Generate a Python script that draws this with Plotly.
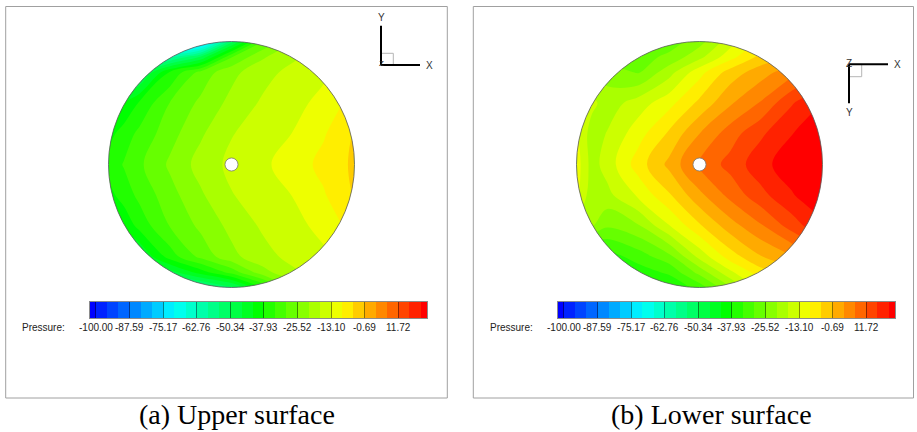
import numpy as np
import plotly.graph_objects as go

# ---------------- data ----------------
# grid nodes (normalised disk coordinates, disk radius = 1)
U_NODES = [-1, -0.875, -0.75, -0.5, -0.25, 0, 0.25, 0.5, 0.75, 0.875, 1]
V_NODES = [-1, -0.875, -0.75, -0.5, -0.25, 0, 0.25, 0.5, 0.75, 0.875, 1]

# pressure on the upper surface, rows from v=-1 (bottom) to v=+1 (top)
P_UPPER = [
    [-72, -70, -66, -62, -58, -52, -38, -25, -18, -15, -13],
    [-64, -60, -55, -48, -40, -32, -23, -18, -15, -13, -12],
    [-58, -53, -47, -36, -28.5, -22.6, -18.8, -16.0, -14, -12, -10],
    [-46, -41.5, -36.5, -29.5, -24.6, -20.2, -16.7, -14.6, -11.7, -9.5, -7],
    [-39.5, -36, -32.8, -27.1, -22.0, -17.5, -15.3, -13.0, -9.4, -7.0, -4.5],
    [-36.5, -33.5, -30.5, -24.8, -19.8, -16.2, -14.0, -11.1, -7.8, -6.0, -4.0],
    [-39.5, -36, -32.8, -27.1, -22.0, -17.5, -15.3, -13.0, -9.4, -7.0, -4.5],
    [-46, -42, -37.5, -29.5, -24.6, -20.2, -16.7, -14.6, -11.7, -9.5, -7],
    [-66, -60, -53, -37.5, -28.2, -22.6, -18.8, -16.0, -14, -12, -10],
    [-76, -70, -66, -60, -50, -30, -22, -18, -15, -13, -12],
    [-86, -84, -84, -86, -80, -52, -30, -22, -18, -15, -13],
]

# pressure on the lower surface, rows from v=-1 (bottom) to v=+1 (top)
P_LOWER = [
    [-45, -44, -43, -41, -38, -32, -22, -12, -7, -4, -1],
    [-42, -40, -38, -36, -33, -24, -14, -6.5, -3, 0, 3],
    [-40, -38, -36, -32, -27, -16, -7, -1, 3, 6, 9],
    [-18, -21, -25, -22, -13.5, -5.5, 1.5, 7.0, 13.5, 16.5, 19],
    [-12, -20, -18.5, -12.5, -5.5, 2.3, 8.8, 14.5, 19.5, 21.8, 23],
    [-11, -19, -15.5, -7.0, 0.3, 8.5, 13.1, 18.5, 22.5, 23.3, 23.8],
    [-12, -19.5, -17, -10.8, -4.2, 3.4, 9.8, 15.1, 19.8, 22, 23],
    [-12, -16, -19.5, -15.3, -10.5, -3.8, 2.8, 8.0, 15.4, 18, 20],
    [-20, -22, -23, -26, -19, -10.5, -3.0, 1.5, 6, 9, 12],
    [-25, -26, -27, -27.5, -24.5, -18.5, -10.5, -3.5, 0, 3, 6],
    [-28, -28, -29, -30, -28, -23, -15, -8, -4, -1, 2],
]

LEGEND_LABELS = ["-100.00", "-87.59", "-75.17", "-62.76", "-50.34",
                 "-37.93", "-25.52", "-13.10", "-0.69", "11.72"]
LEVELS_PER_LABEL = 3
N_LEVELS = 30
LEGEND_LIMITS = [-102.2, 22.3]
CAPTIONS = ["(a) Upper surface", "(b) Lower surface"]
DISK_RADIUS = 1.0
HOLE_RADIUS = 0.053

# ---------------- derived contour levels ----------------
label_vals = [float(t) for t in LEGEND_LABELS]
step = (label_vals[1] - label_vals[0]) / LEVELS_PER_LABEL
start = label_vals[0]
end = start + (N_LEVELS - 1) * step

RAINBOW = [[0.0, "rgb(0,0,255)"], [0.25, "rgb(0,255,255)"],
           [0.5, "rgb(0,255,0)"], [0.75, "rgb(255,255,0)"], [1.0, "rgb(255,0,0)"]]

W, H = 917, 432
SANS = "Liberation Sans, Arial, sans-serif"


def px(x):
    return x / W


def py(y):
    return 1 - y / H


fig = go.Figure()

# ---------------- panels ----------------
R_PX = 123.0
LIM = 1.02
panel_centers = [(231.5, 164.5), (699.5, 164.5)]
fields = [P_UPPER, P_LOWER]

for k, (field, (cx, cy)) in enumerate(zip(fields, panel_centers)):
    ax = "" if k == 0 else "2"
    fig.add_trace(go.Contour(
        x=U_NODES, y=V_NODES, z=field,
        autocontour=False,
        contours=dict(start=start, end=end, size=step, coloring="fill"),
        colorscale=RAINBOW, showscale=False,
        line=dict(width=0, smoothing=1.0),
        hoverinfo="skip",
        xaxis="x" + ax, yaxis="y" + ax,
    ))
    half = R_PX * LIM
    fig.layout["xaxis" + ax] = dict(domain=[px(cx - half), px(cx + half)],
                                    range=[-LIM, LIM], visible=False, fixedrange=True)
    yc = H - cy
    fig.layout["yaxis" + ax] = dict(domain=[(yc - half) / H, (yc + half) / H],
                                    range=[-LIM, LIM], visible=False, fixedrange=True)

    # white mask outside the disk
    t = np.linspace(0, 2 * np.pi, 721)
    circ = " ".join(f"L{DISK_RADIUS*np.cos(a):.5f},{DISK_RADIUS*np.sin(a):.5f}" for a in t[1:])
    L2 = LIM
    path = (f"M{-L2},{-L2} L{L2},{-L2} L{L2},{L2} L{-L2},{L2} Z "
            f"M{DISK_RADIUS},0 {circ} Z")
    fig.add_shape(type="path", path=path, xref="x" + ax, yref="y" + ax,
                  fillcolor="white", fillrule="evenodd", line=dict(width=0))
    fig.add_shape(type="circle", xref="x" + ax, yref="y" + ax,
                  x0=-DISK_RADIUS, x1=DISK_RADIUS, y0=-DISK_RADIUS, y1=DISK_RADIUS,
                  line=dict(color="#5a5a5a", width=0.8))
    fig.add_shape(type="circle", xref="x" + ax, yref="y" + ax,
                  x0=-HOLE_RADIUS, x1=HOLE_RADIUS, y0=-HOLE_RADIUS, y1=HOLE_RADIUS,
                  fillcolor="white", line=dict(color="#777777", width=0.8))

# ---------------- legends (colour bars) ----------------
edges = [LEGEND_LIMITS[0]] + [start + i * step for i in range(N_LEVELS)] + [LEGEND_LIMITS[1]]
zvals = [start + (i - 0.5) * step for i in range(N_LEVELS + 1)]
bar_x = [(90, 427), (558, 895)]
for k, (x0, x1) in enumerate(bar_x):
    ax = str(3 + k)
    fig.add_trace(go.Heatmap(
        x=edges, y=[0, 1], z=[zvals], colorscale=RAINBOW,
        zmin=start - 0.5 * step, zmax=start + (N_LEVELS - 0.5) * step,
        showscale=False, hoverinfo="skip", xaxis="x" + ax, yaxis="y" + ax,
    ))
    fig.layout["xaxis" + ax] = dict(
        domain=[px(x0), px(x1)], range=LEGEND_LIMITS, fixedrange=True,
        tickvals=label_vals, showticklabels=False, ticks="inside", ticklen=16,
        tickwidth=1, tickcolor="rgba(0,0,0,0.45)", showline=True, mirror=True,
        linecolor="#8c8c8c", linewidth=1, showgrid=False, zeroline=False,
        layer="above traces", anchor="y" + ax,
    )
    fig.layout["yaxis" + ax] = dict(
        domain=[(H - 318) / H, (H - 302) / H], range=[0, 1], fixedrange=True,
        showticklabels=False, ticks="", showgrid=False, zeroline=False,
        showline=True, mirror=True, linecolor="#8c8c8c", linewidth=1, anchor="x" + ax,
    )
    # level labels placed through the legend axis scale
    for val, txt in zip(label_vals, LEGEND_LABELS):
        fig.add_annotation(x=val, y=py(327), xref="x" + ax, yref="paper", text=txt,
                           showarrow=False, xanchor="center", yanchor="middle",
                           font=dict(family=SANS, size=10, color="#222"))
    fig.add_annotation(x=px(x0 - 23), y=py(327), xref="paper", yref="paper",
                       text="Pressure:", showarrow=False, xanchor="right", yanchor="middle",
                       font=dict(family=SANS, size=10, color="#222"))

# ---------------- frames and captions ----------------
frames = [(5.7, 6.5, 447.3, 398), (473.3, 6.5, 913.5, 398)]
for (a, b, c, d) in frames:
    fig.add_shape(type="rect", xref="paper", yref="paper",
                  x0=px(a), x1=px(c), y0=py(d), y1=py(b),
                  line=dict(color="#a0a0a0", width=1))
for cap, xc in zip(CAPTIONS, [237, 711.5]):
    fig.add_annotation(x=px(xc), y=py(414.5), xref="paper", yref="paper", text=cap,
                       showarrow=False, xanchor="center", yanchor="middle",
                       font=dict(family="Liberation Serif, Times New Roman, serif", size=28, color="black"))

# ---------------- axis triads ----------------
def seg(x0, y0, x1, y1, color="black", width=2):
    fig.add_shape(type="line", xref="paper", yref="paper",
                  x0=px(x0), y0=py(y0), x1=px(x1), y1=py(y1),
                  line=dict(color=color, width=width))


def lab(x, y, t, size=10):
    fig.add_annotation(x=px(x), y=py(y), xref="paper", yref="paper", text=t,
                       showarrow=False, xanchor="center", yanchor="middle",
                       font=dict(family=SANS, size=size, color="#333"))


# left triad (upper surface view)
fig.add_shape(type="rect", xref="paper", yref="paper", x0=px(381), x1=px(393.3),
              y0=py(65), y1=py(53.3), line=dict(color="#b5b5b5", width=1))
seg(381, 25.7, 381, 65)
seg(381, 65, 420, 65)
lab(381.7, 17.5, "Y")
lab(429, 65, "X")
lab(381, 63.5, "Z", 8)

# right triad (lower surface view)
fig.add_shape(type="rect", xref="paper", yref="paper", x0=px(849), x1=px(861.7),
              y0=py(76.7), y1=py(64.3), line=dict(color="#b5b5b5", width=1))
seg(849, 64.3, 888, 64.3)
seg(849, 64.3, 849, 103.3)
lab(849, 63.5, "Z", 10)
lab(897.7, 64.5, "X")
lab(849, 112, "Y")

fig.update_layout(width=W, height=H, margin=dict(l=0, r=0, t=0, b=0),
                  paper_bgcolor="white", plot_bgcolor="rgba(0,0,0,0)",
                  showlegend=False)

fig.write_html("out.html")
